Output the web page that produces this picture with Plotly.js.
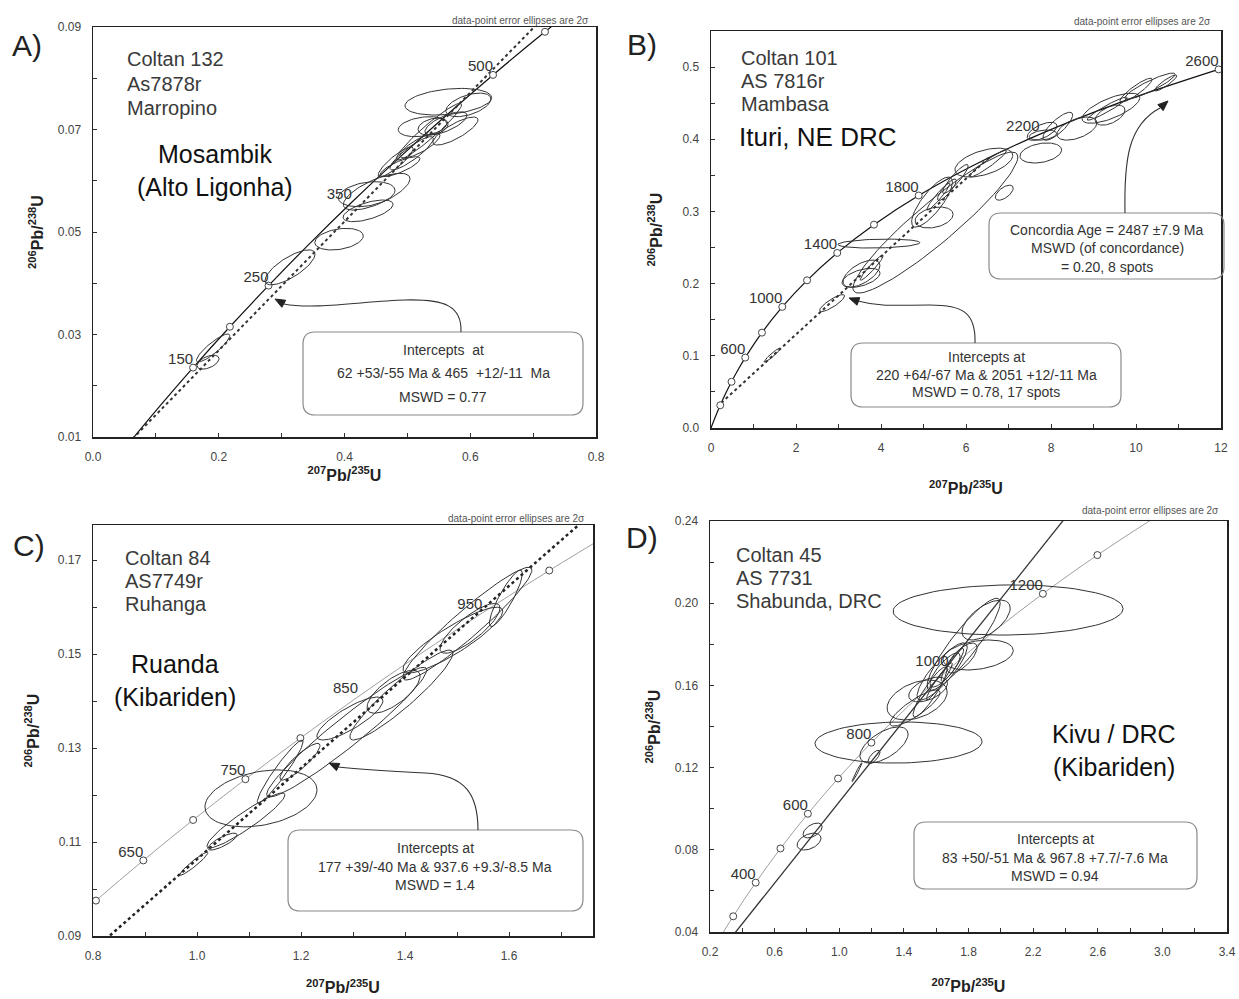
<!DOCTYPE html>
<html><head><meta charset="utf-8">
<script src="https://cdn.plot.ly/plotly-3.0.1.min.js"></script>
<style>html,body{margin:0;padding:0;background:#fff}</style>
</head><body>
<div id="chart" style="width:1239px;height:999px"></div>
<script>
// ---------------- Panel A : Coltan 132 ----------------
const A_concAge = [50,100,150,200,250,300,350,400,450,500,550,600];
const A_concX = [0.05048,0.10350,0.15920,0.21771,0.27917,0.34375,0.41155,0.48282,0.55765,0.63621,0.71885,0.80568];
const A_concY = [0.00779,0.01563,0.02354,0.03151,0.03954,0.04764,0.05580,0.06402,0.07230,0.08065,0.08906,0.09754];
const A_markX = [0.15920,0.21771,0.27917,0.63621,0.71885];
const A_markY = [0.02354,0.03151,0.03954,0.08065,0.08906];
const A_labelText = ['150','250','350','500'];
const A_labelX = [0.15920,0.27917,0.41155,0.63621];
const A_labelY = [0.02354,0.03954,0.05580,0.08065];
const A_interceptX = [0.06296,0.58083];
const A_interceptY = [0.00966,0.07480];
const A_ellX   = [0.183,0.191,0.3133,0.3913,0.4374,0.4512,0.4353,0.4883,0.4814,0.5068,0.5200,0.5344,0.5614,0.5765,0.5240,0.5408,0.5970,0.5651];
const A_ellY   = [0.0246,0.02737,0.0431,0.0486,0.05413,0.05787,0.05738,0.06274,0.0637,0.06535,0.06688,0.06957,0.0712,0.0697,0.07055,0.07055,0.0748,0.07542];
const A_ellSX  = [0.0175,0.0265,0.0398,0.0385,0.0398,0.053,0.045,0.0318,0.0278,0.0345,0.0318,0.0517,0.0334,0.0358,0.0385,0.0239,0.0358,0.0689];
const A_ellSY  = [0.00137,0.00273,0.00341,0.00211,0.00211,0.00358,0.00244,0.00195,0.0029,0.00325,0.00244,0.00553,0.00224,0.00273,0.00195,0.00166,0.0023,0.0026];
const A_ellRho = [0.5,0.88,0.75,0.3,0.6,0.7,0.3,0.8,0.88,0.88,0.8,0.95,0.7,0.8,0.3,0.3,0.5,0.3];
const A_info = ['Coltan 132','As7878r','Marropino'];
const A_region = ['Mosambik','(Alto Ligonha)'];
const A_box = ['Intercepts  at','62 +53/-55 Ma &amp; 465  +12/-11  Ma','MSWD = 0.77'];

// ---------------- Panel B : Coltan 101 ----------------
const B_concAge = [0,100,200,300,400,500,600,800,1000,1200,1400,1600,1800,2000,2200,2400,2600];
const B_concX = [0,0.10350,0.21771,0.34375,0.48282,0.63621,0.80568,1.19880,1.67737,2.26040,2.97020,3.83450,4.88700,6.16850,7.72920,9.62960,11.9440];
const B_concY = [0,0.01563,0.03151,0.04764,0.06402,0.08065,0.09754,0.13213,0.16781,0.20459,0.24257,0.28171,0.32212,0.36377,0.40673,0.45111,0.49682];
const B_markX = [0.21771,0.48282,0.80568,1.19880,1.67737,2.26040,2.97020,3.83450,4.88700,11.9440];
const B_markY = [0.03151,0.06402,0.09754,0.13213,0.16781,0.20459,0.24257,0.28171,0.32212,0.49682];
const B_labelText = ['600','1000','1400','1800','2200','2600'];
const B_labelX = [0.80568,1.67737,2.97020,4.88700,7.72920,11.9440];
const B_labelY = [0.09754,0.16781,0.24257,0.32212,0.40673,0.49682];
const B_interceptX = [0.24192,6.5378];
const B_interceptY = [0.03472,0.37459];
const B_ellX   = [1.44,2.85,3.53,3.54,3.78,3.95,5.28,5.20,5.25,5.35,6.42,6.52,6.90,7.76,7.79,7.81,8.16,8.61,9.41,9.32,9.39,10.0,10.33,10.7,5.75,5.55];
const B_ellY   = [0.101,0.173,0.208,0.214,0.222,0.2555,0.2846,0.313,0.2916,0.3206,0.3677,0.3663,0.326,0.381,0.411,0.4058,0.418,0.4148,0.443,0.4425,0.4335,0.468,0.4737,0.478,0.345,0.330];
const B_ellSX  = [0.19,0.294,0.447,0.435,0.27,0.965,1.94,0.48,0.447,0.27,0.68,0.435,0.21,0.49,0.35,0.32,0.35,0.47,0.68,0.47,0.35,0.38,0.59,0.26,0.30,0.22];
const B_ellSY  = [0.0097,0.0118,0.0132,0.0187,0.0173,0.0062,0.0977,0.0346,0.0145,0.0187,0.020,0.0187,0.0104,0.0139,0.0125,0.007,0.0194,0.016,0.0208,0.016,0.0139,0.0166,0.018,0.011,0.020,0.015];
const B_ellRho = [0.95,0.85,0.5,0.6,0.95,0.2,0.93,0.8,0.3,0.95,0.5,0.95,0.6,0.3,0.6,0.3,0.8,0.5,0.7,0.95,0.5,0.9,0.9,0.9,0.9,0.85];
const B_info = ['Coltan 101','AS 7816r','Mambasa'];
const B_region = ['Ituri, NE DRC'];
const B_box1 = ['Concordia Age = 2487 ±7.9 Ma','MSWD (of concordance)','= 0.20, 8 spots'];
const B_box2 = ['Intercepts at','220 +64/-67 Ma &amp; 2051 +12/-11 Ma','MSWD = 0.78, 17 spots'];

// ---------------- Panel C : Coltan 84 ----------------
const C_concAge = [550,600,650,700,750,800,850,900,950,1000,1050];
const C_concX = [0.71885,0.80568,0.89676,0.99251,1.09309,1.19880,1.30967,1.42634,1.54877,1.67737,1.81256];
const C_concY = [0.08906,0.09754,0.10609,0.11470,0.12338,0.13213,0.14093,0.14983,0.15878,0.16781,0.17689];
const C_markX = [0.80568,0.89676,0.99251,1.09309,1.19880,1.67737];
const C_markY = [0.09754,0.10609,0.11470,0.12338,0.13213,0.16781];
const C_labelText = ['650','750','850','950'];
const C_labelX = [0.89676,1.09309,1.30967,1.54877];
const C_labelY = [0.10609,0.12338,0.14093,0.15878];
const C_interceptX = [0.19043,1.51783];
const C_interceptY = [0.02784,0.15656];
const C_ellX   = [0.994,1.049,1.094,1.123,1.160,1.198,1.288,1.294,1.378,1.393,1.492,1.525,1.520,1.594];
const C_ellY   = [0.1054,0.1101,0.1146,0.1193,0.125,0.1271,0.1334,0.1363,0.142,0.1413,0.153,0.1555,0.1565,0.1619];
const C_ellSX  = [0.027,0.028,0.075,0.1077,0.044,0.0385,0.154,0.0635,0.051,0.099,0.096,0.0577,0.124,0.0317];
const C_ellSY  = [0.00245,0.0018,0.00585,0.00606,0.0067,0.0039,0.0138,0.00457,0.00457,0.00957,0.007,0.0053,0.012,0.006];
const C_ellRho = [0.95,0.8,0.93,0.3,0.95,0.88,0.96,0.82,0.72,0.93,0.88,0.82,0.95,0.88];
const C_info = ['Coltan 84','AS7749r','Ruhanga'];
const C_region = ['Ruanda','(Kibariden)'];
const C_box = ['Intercepts at','177 +39/-40 Ma &amp; 937.6 +9.3/-8.5 Ma','MSWD = 1.4'];

// ---------------- Panel D : Coltan 45 ----------------
const D_concAge = [200,300,400,500,600,700,800,900,1000,1100,1200,1300,1400];
const D_concX = [0.21771,0.34375,0.48282,0.63621,0.80568,0.99251,1.19880,1.42634,1.67737,1.95456,2.26040,2.59780,2.97020];
const D_concY = [0.03151,0.04764,0.06402,0.08065,0.09754,0.11470,0.13213,0.14983,0.16781,0.18606,0.20459,0.22342,0.24257];
const D_markX = [0.34375,0.48282,0.63621,0.80568,0.99251,1.19880,2.26040,2.59780];
const D_markY = [0.04764,0.06402,0.08065,0.09754,0.11470,0.13213,0.20459,0.22342];
const D_labelText = ['400','600','800','1000','1200'];
const D_labelX = [0.48282,0.80568,1.19880,1.67737,2.26040];
const D_labelY = [0.06402,0.09754,0.13213,0.16781,0.20459];
const D_interceptX = [0.08518,1.59385];
const D_interceptY = [0.01296,0.16200];
const D_ellX   = [2.045,1.909,1.770,1.860,1.637,1.655,1.760,1.482,1.469,1.367,1.277,1.215,1.110,0.835,0.813,1.562,1.620,1.700,1.550];
const D_ellY   = [0.1967,0.1918,0.180,0.1748,0.1668,0.1675,0.1733,0.1529,0.149,0.1322,0.131,0.1252,0.1178,0.0894,0.084,0.1568,0.162,0.170,0.158];
const D_ellSX  = [0.712,0.149,0.226,0.217,0.155,0.093,0.093,0.186,0.155,0.517,0.149,0.037,0.031,0.059,0.074,0.105,0.08,0.07,0.12];
const D_ellSY  = [0.0122,0.0097,0.0224,0.0073,0.0139,0.0083,0.0073,0.0097,0.0088,0.010,0.0088,0.0032,0.0046,0.0036,0.0041,0.0122,0.009,0.008,0.006];
const D_ellRho = [0.05,0.6,0.9,0.3,0.85,0.8,0.7,0.4,0.85,0.05,0.6,0.7,0.98,0.5,0.4,0.9,0.95,0.9,0.5];
const D_info = ['Coltan 45','AS 7731','Shabunda, DRC'];
const D_region = ['Kivu / DRC','(Kibariden)'];
const D_box = ['Intercepts at','83 +50/-51 Ma &amp; 967.8 +7.7/-7.6 Ma','MSWD = 0.94'];

const NOTE = 'data-point error ellipses are 2σ';
const PANEL_LETTERS = ['A)','B)','C)','D)'];

// ---------------- builders ----------------
const W = 1239, H = 999;
const FONT = 'Liberation Sans, Arial, Helvetica, sans-serif';
const PX = v => v / W, PY = v => 1 - v / H;

function ellipses(cx, cy, sx, sy, rho) {
  const xs = [], ys = [], n = 80;
  for (let k = 0; k < cx.length; k++) {
    const s = Math.sqrt(1 - rho[k] * rho[k]);
    for (let i = 0; i <= n; i++) {
      const t = 2 * Math.PI * i / n;
      xs.push(cx[k] + sx[k] * Math.cos(t));
      ys.push(cy[k] + sy[k] * (rho[k] * Math.cos(t) + s * Math.sin(t)));
    }
    xs.push(null); ys.push(null);
  }
  return [xs, ys];
}
function lineThrough(ix, iy, s0, s1) {
  const dx = ix[1] - ix[0], dy = iy[1] - iy[0];
  return [[ix[0] + s0 * dx, ix[0] + s1 * dx], [iy[0] + s0 * dy, iy[0] + s1 * dy]];
}

const traces = [];
function panel(k, conc, concStyle, inter, interStyle, sExt, marks, labels, ell) {
  const xa = k === 1 ? 'x' : 'x' + k, ya = k === 1 ? 'y' : 'y' + k;
  traces.push({x: conc[0], y: conc[1], xaxis: xa, yaxis: ya, mode: 'lines', line: Object.assign({shape: 'spline', smoothing: 1}, concStyle), hoverinfo: 'skip'});
  const dl = lineThrough(inter[0], inter[1], sExt[0], sExt[1]);
  traces.push({x: dl[0], y: dl[1], xaxis: xa, yaxis: ya, mode: 'lines', line: interStyle, hoverinfo: 'skip'});
  traces.push({x: marks[0], y: marks[1], xaxis: xa, yaxis: ya, mode: 'markers', marker: {symbol: 'circle', size: 7, color: '#fff', line: {color: '#444', width: 1}}, cliponaxis: false, hoverinfo: 'skip'});
  traces.push({x: labels[1], y: labels[2], text: labels[0], xaxis: xa, yaxis: ya, mode: 'text', textposition: 'top left', textfont: {family: FONT, size: 15, color: '#333'}, cliponaxis: false, hoverinfo: 'skip'});
  const e = ellipses(ell[0], ell[1], ell[2], ell[3], ell[4]);
  traces.push({x: e[0], y: e[1], xaxis: xa, yaxis: ya, mode: 'lines', line: {color: '#333', width: 1}, connectgaps: false, hoverinfo: 'skip'});
}

panel(1, [A_concX, A_concY], {color: '#111', width: 1.2},
      [A_interceptX, A_interceptY], {color: '#333', width: 2, dash: 'dot'}, [0, 2],
      [A_markX, A_markY], [A_labelText, A_labelX, A_labelY],
      [A_ellX, A_ellY, A_ellSX, A_ellSY, A_ellRho]);
panel(2, [B_concX, B_concY], {color: '#111', width: 1.2},
      [B_interceptX, B_interceptY], {color: '#333', width: 2, dash: 'dot'}, [0, 1],
      [B_markX, B_markY], [B_labelText, B_labelX, B_labelY],
      [B_ellX, B_ellY, B_ellSX, B_ellSY, B_ellRho]);
panel(3, [C_concX, C_concY], {color: '#a0a0a0', width: 1},
      [C_interceptX, C_interceptY], {color: '#222', width: 2.5, dash: 'dot'}, [0, 1.3],
      [C_markX, C_markY], [C_labelText, C_labelX, C_labelY],
      [C_ellX, C_ellY, C_ellSX, C_ellSY, C_ellRho]);
panel(4, [D_concX, D_concY], {color: '#a0a0a0', width: 1},
      [D_interceptX, D_interceptY], {color: '#333', width: 1.3}, [0, 1.7],
      [D_markX, D_markY], [D_labelText, D_labelX, D_labelY],
      [D_ellX, D_ellY, D_ellSX, D_ellSY, D_ellRho]);

// ---------------- axes ----------------
const TITLE_X = '<b><sup>207</sup>Pb/<sup>235</sup>U</b>';
const TITLE_Y = '<b><sup>206</sup>Pb/<sup>238</sup>U</b>';
function axis(dom, range, dtick, tick0, minor, fmt, anchor, title, standoff) {
  return {
    domain: dom, range: range, tickmode: 'linear', dtick: dtick, tick0: tick0, tickformat: fmt,
    ticks: 'inside', ticklen: 4, tickwidth: 1, tickcolor: '#333',
    minor: {dtick: minor, tick0: tick0, ticks: 'inside', ticklen: 4, tickwidth: 1, tickcolor: '#333'},
    showline: true, linecolor: '#222', linewidth: 1.5, mirror: true,
    showgrid: false, zeroline: false, anchor: anchor, fixedrange: true, automargin: false,
    ticklabelstandoff: 8,
    tickfont: {family: FONT, size: 12, color: '#444'},
    title: {text: title, font: {family: FONT, size: 16, color: '#222'}, standoff: standoff}
  };
}
const fx = (a, b) => [PX(a), PX(b)];
const fy = (top, bot) => [PY(bot), PY(top)];

const layout = {
  width: W, height: H, margin: {l: 0, r: 0, t: 0, b: 0},
  paper_bgcolor: '#fff', plot_bgcolor: '#fff', showlegend: false, hovermode: false,
  font: {family: FONT, color: '#333'},
  xaxis:  axis(fx(93, 596),  [0, 0.8],     0.2, 0,    0.1,  '.1f', 'y',  TITLE_X, 0),
  yaxis:  axis(fy(27, 437),  [0.01, 0.09], 0.02, 0.01, 0.01, '.2f', 'x',  TITLE_Y, 10),
  xaxis2: axis(fx(711, 1221),[0, 12],      2,   0,    1,    'd',   'y2', TITLE_X, 29),
  yaxis2: axis(fy(31, 428),  [0, 0.55],    0.1, 0,    0.05, '.1f', 'x2', TITLE_Y, 16),
  xaxis3: axis(fx(93, 593),  [0.8, 1.7615],0.2, 0.8,  0.1,  '.1f', 'y3', TITLE_X, 20),
  yaxis3: axis(fy(525, 936), [0.09, 0.1775],0.02,0.09, 0.01, '.2f', 'x3', TITLE_Y, 14),
  xaxis4: axis(fx(710, 1227),[0.2, 3.4],   0.4, 0.2,  0.2,  '.1f', 'y4', TITLE_X, 23),
  yaxis4: axis(fy(521, 932), [0.04, 0.24], 0.04,0.04, 0.02, '.2f', 'x4', TITLE_Y, 10),
  annotations: [], shapes: []
};

// ---------------- annotations ----------------
function txt(text, x, y, size, color, xanchor) {
  layout.annotations.push({text: text, x: PX(x), y: PY(y), xref: 'paper', yref: 'paper',
    xanchor: xanchor || 'left', yanchor: 'middle', showarrow: false,
    font: {family: FONT, size: size, color: color}});
}
function lines(arr, x, ys, size, color, xanchor) { arr.forEach((t, i) => txt(t, x, ys[i], size, color, xanchor)); }

[[27, 46], [642, 45], [29, 545], [642, 537]].forEach((p, i) => txt(PANEL_LETTERS[i], p[0], p[1], 30, '#222', 'center'));
[[591, 21], [1213, 22], [587, 518], [1221, 510]].forEach(p => txt(NOTE, p[0], p[1], 10, '#555', 'right'));
lines(A_info, 125, [59, 84, 108], 20, '#3a3a3a');
lines(B_info, 739, [58, 81, 104], 20, '#3a3a3a');
lines(C_info, 123, [558, 581, 604], 20, '#3a3a3a');
lines(D_info, 734, [555, 578, 601], 20, '#3a3a3a');
lines(A_region, 215, [154, 187], 25, '#111', 'center');
lines(B_region, 737, [137], 26, '#111');
lines(C_region, 175, [664, 697], 25, '#111', 'center');
lines(D_region, 1114, [734, 767], 25, '#111', 'center');
lines(A_box, 443, [350, 373, 397], 14, '#333', 'center');
lines(B_box1, 1107, [230, 248, 267], 14, '#333', 'center');
lines(B_box2, 986, [357, 375, 392], 14, '#333', 'center');
lines(C_box, 435, [848, 867, 885], 14, '#333', 'center');
lines(D_box, 1055, [839, 858, 876], 14, '#333', 'center');

// rounded boxes
function rr(x0, y0, x1, y1, r) {
  const X = v => PX(v).toFixed(5), Y = v => PY(v).toFixed(5);
  return `M ${X(x0 + r)} ${Y(y0)} L ${X(x1 - r)} ${Y(y0)} Q ${X(x1)} ${Y(y0)} ${X(x1)} ${Y(y0 + r)} ` +
         `L ${X(x1)} ${Y(y1 - r)} Q ${X(x1)} ${Y(y1)} ${X(x1 - r)} ${Y(y1)} L ${X(x0 + r)} ${Y(y1)} ` +
         `Q ${X(x0)} ${Y(y1)} ${X(x0)} ${Y(y1 - r)} L ${X(x0)} ${Y(y0 + r)} Q ${X(x0)} ${Y(y0)} ${X(x0 + r)} ${Y(y0)} Z`;
}
[[303, 332, 583, 415], [989, 213, 1224, 279], [851, 343, 1121, 407], [288, 830, 583, 911], [914, 822, 1197, 889]]
  .forEach(b => layout.shapes.push({type: 'path', xref: 'paper', yref: 'paper', path: rr(b[0], b[1], b[2], b[3], 12),
    line: {color: '#8a8a8a', width: 1.2}, fillcolor: 'rgba(0,0,0,0)'}));

// curved arrows with triangular heads
function curve(segs) {
  return segs.map(s => s[0] + ' ' + s.slice(1).map((v, i) => (i % 2 === 0 ? PX(v) : PY(v)).toFixed(5)).join(' ')).join(' ');
}
function head(tip, tail) {
  const dx = tip[0] - tail[0], dy = tip[1] - tail[1], L = Math.hypot(dx, dy);
  const ux = dx / L, uy = dy / L, len = 10, w = 4;
  const bx = tip[0] - ux * len, by = tip[1] - uy * len;
  const p = (x, y) => PX(x).toFixed(5) + ' ' + PY(y).toFixed(5);
  return `M ${p(tip[0], tip[1])} L ${p(bx - uy * w, by + ux * w)} L ${p(bx + uy * w, by - ux * w)} Z`;
}
const arrows = [
  {path: [['M', 461, 332], ['C', 462, 306, 445, 299, 405, 300], ['S', 315, 310, 284, 304]], tip: [275, 299], tail: [286, 305]},
  {path: [['M', 975, 343], ['C', 976, 312, 962, 305, 930, 305], ['S', 880, 307, 858, 301]], tip: [849, 298], tail: [860, 302]},
  {path: [['M', 1125, 213], ['C', 1124, 160, 1128, 125, 1160, 108]], tip: [1168, 101], tail: [1159, 109]},
  {path: [['M', 478, 830], ['C', 478, 795, 466, 775, 425, 773], ['S', 365, 770, 338, 767]], tip: [329, 763], tail: [340, 768]}
];
arrows.forEach(a => {
  layout.shapes.push({type: 'path', xref: 'paper', yref: 'paper', path: curve(a.path), line: {color: '#333', width: 1.1}});
  layout.shapes.push({type: 'path', xref: 'paper', yref: 'paper', path: head(a.tip, a.tail), line: {color: '#222', width: 1}, fillcolor: '#222'});
});

Plotly.newPlot('chart', traces, layout, {staticPlot: true, displayModeBar: false});
</script>
</body></html>
